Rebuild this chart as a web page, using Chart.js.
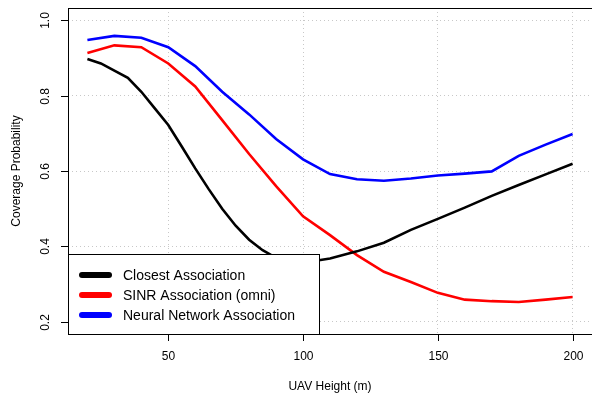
<!DOCTYPE html>
<html>
<head>
<meta charset="utf-8">
<script src="https://cdn.jsdelivr.net/npm/chart.js@4.4.1/dist/chart.umd.min.js"></script>
<style>
  body { margin: 0; background: #fff; }
  #wrap { width: 592px; height: 394px; }
</style>
</head>
<body>
<div id="wrap"><canvas id="myChart" width="592" height="394"></canvas></div>
<script>
// values
const closestHeights = [20, 25, 30, 35, 40, 45, 50, 55, 60, 65, 70, 75, 80, 85, 90, 100, 110, 120, 130, 140, 150, 160, 170, 180, 190, 200];
const closestValues = [0.897, 0.885, 0.866, 0.847, 0.81, 0.766, 0.722, 0.665, 0.607, 0.552, 0.5, 0.455, 0.418, 0.39, 0.37, 0.357, 0.368, 0.387, 0.41, 0.444, 0.473, 0.503, 0.534, 0.563, 0.591, 0.619];

const heights = [20, 30, 40, 50, 60, 70, 80, 90, 100, 110, 120, 130, 140, 150, 160, 170, 180, 190, 200];
const sinrValues = [0.913, 0.933, 0.928, 0.885, 0.824, 0.735, 0.645, 0.56, 0.48, 0.43, 0.377, 0.333, 0.306, 0.277, 0.259, 0.255, 0.253, 0.259, 0.266];
const neuralValues = [0.947, 0.958, 0.953, 0.928, 0.878, 0.81, 0.75, 0.685, 0.631, 0.592, 0.578, 0.574, 0.58, 0.588, 0.593, 0.599, 0.64, 0.67, 0.698];

const xTicks = [50, 100, 150, 200];
const yTicks = [0.2, 0.4, 0.6, 0.8, 1.0];
const yTickLabels = ["0.2", "0.4", "0.6", "0.8", "1.0"];

const seriesNames = ["Closest Association", "SINR Association (omni)", "Neural Network Association"];
const seriesColors = ["#000000", "#ff0000", "#0000ff"];

const toPoints = (xs, ys) => xs.map((x, i) => ({ x: x, y: ys[i] }));

const FONT = "'Liberation Sans', Arial, Helvetica, sans-serif";

// frame, ticks, axis labels and legend drawn R-style
const rAxes = {
  id: "rAxes",
  afterDraw(chart) {
    const c = chart.ctx;
    const a = chart.chartArea;
    const sx = chart.scales.x;
    const sy = chart.scales.y;
    c.save();
    c.strokeStyle = "#000";
    c.lineWidth = 1;
    c.fillStyle = "#000";

    // box
    c.strokeRect(a.left + 0.5, a.top + 0.5, a.right - a.left, a.bottom - a.top);

    // x ticks
    c.font = "12px " + FONT;
    c.textAlign = "center";
    c.textBaseline = "middle";
    xTicks.forEach((v) => {
      const px = Math.round(sx.getPixelForValue(v)) + 0.5;
      c.beginPath();
      c.moveTo(px, a.bottom);
      c.lineTo(px, a.bottom + 7);
      c.stroke();
      c.fillText(String(v), px, a.bottom + 23);
    });

    // y ticks
    yTicks.forEach((v, i) => {
      const py = Math.round(sy.getPixelForValue(v)) + 0.5;
      c.beginPath();
      c.moveTo(a.left - 7, py);
      c.lineTo(a.left, py);
      c.stroke();
      c.save();
      c.translate(a.left - 22, py);
      c.rotate(-Math.PI / 2);
      c.fillText(yTickLabels[i], 0, 0);
      c.restore();
    });

    // axis titles
    c.fillText("UAV Height (m)", (a.left + a.right) / 2, a.bottom + 53);
    c.save();
    c.translate(17, (a.top + a.bottom) / 2);
    c.rotate(-Math.PI / 2);
    c.fillText("Coverage Probability", 0, 0);
    c.restore();

    // legend
    const lx = a.left, ly = 254, lw = 251, lh = a.bottom - 254;
    c.fillStyle = "#fff";
    c.fillRect(lx, ly, lw, lh);
    c.strokeRect(lx + 0.5, ly + 0.5, lw, lh);
    c.font = "14px " + FONT;
    c.textAlign = "left";
    seriesNames.forEach((name, i) => {
      const y = ly + 21 + i * 20;
      c.strokeStyle = seriesColors[i];
      c.lineWidth = 6;
      c.lineCap = "round";
      c.beginPath();
      c.moveTo(lx + 14, y);
      c.lineTo(lx + 41, y);
      c.stroke();
      c.fillStyle = "#000";
      c.fillText(name, lx + 55, y + 1);
    });
    c.restore();
  }
};

const gridOpts = { color: "#c8c8c8", drawTicks: false, tickLength: 0, lineWidth: 1 };
const borderOpts = { display: false, dash: [1, 3] };

new Chart(document.getElementById("myChart"), {
  type: "line",
  data: {
    datasets: [
      { label: seriesNames[0], data: toPoints(closestHeights, closestValues), borderColor: seriesColors[0] },
      { label: seriesNames[1], data: toPoints(heights, sinrValues), borderColor: seriesColors[1] },
      { label: seriesNames[2], data: toPoints(heights, neuralValues), borderColor: seriesColors[2] },
    ].map((d) => Object.assign(d, { borderWidth: 2.6, pointRadius: 0, tension: 0, fill: false })),
  },
  options: {
    responsive: false,
    animation: false,
    layout: { padding: { left: 68, top: 8, right: 0, bottom: 60 } },
    plugins: { legend: { display: false }, tooltip: { enabled: false } },
    scales: {
      x: {
        type: "linear",
        min: 12.8,
        max: 207.2,
        afterBuildTicks: (s) => { s.ticks = xTicks.map((v) => ({ value: v })); },
        ticks: { display: false },
        border: borderOpts,
        grid: gridOpts,
      },
      y: {
        min: 0.168,
        max: 1.032,
        afterBuildTicks: (s) => { s.ticks = yTicks.map((v) => ({ value: v })); },
        ticks: { display: false },
        border: borderOpts,
        grid: gridOpts,
      },
    },
  },
  plugins: [rAxes],
});
</script>
</body>
</html>
